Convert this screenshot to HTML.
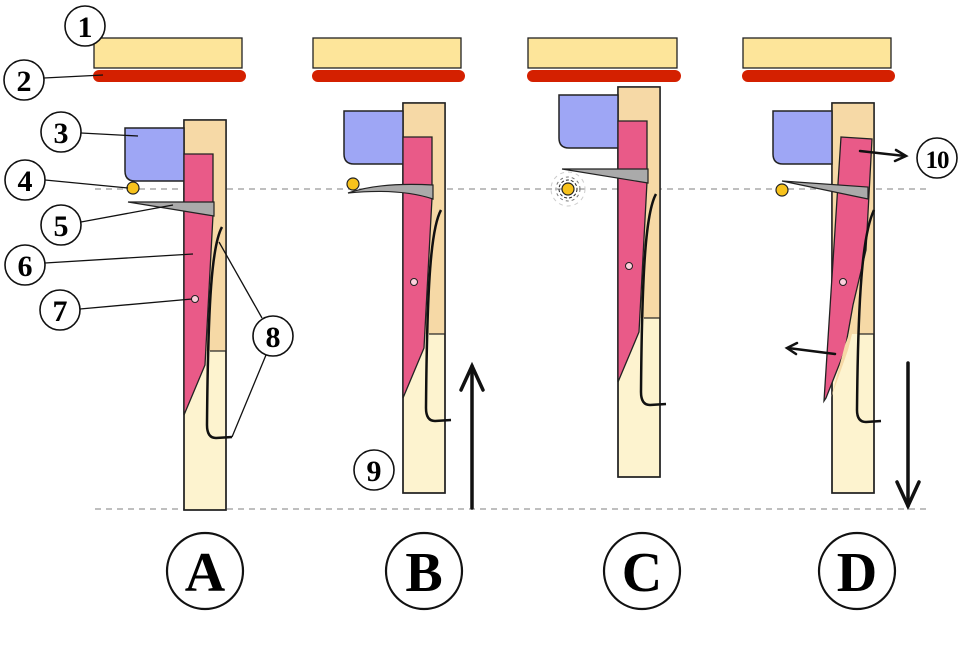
<!DOCTYPE html>
<html><head><meta charset="utf-8"><style>
html,body{margin:0;padding:0;background:#fff;}
svg{display:block;}
text{font-family:"Liberation Serif","DejaVu Serif",serif;font-weight:bold;text-anchor:middle;}
</style></head><body>
<svg width="960" height="656" viewBox="0 0 960 656" xmlns="http://www.w3.org/2000/svg">
<defs>
<g id="jack">
  <rect x="184" y="120" width="42" height="390" fill="#fdf3cf" stroke="#222" stroke-width="1.5"/>
  <rect x="184" y="120" width="42" height="231" fill="#f6d9a6"/>
  <path d="M210,351 L226,351" stroke="#222" stroke-width="1.2"/>
  <rect x="184" y="120" width="42" height="390" fill="none" stroke="#222" stroke-width="1.5"/>
  <path d="M125,128 L184,128 L184,181 L135,181 Q125,181 125,171 Z" fill="#9ea6f5" stroke="#222" stroke-width="1.5"/>
</g>
<g id="tongue">
  <path d="M184,154 L213,154 L213,215 L205,365 L184,415 Z" fill="#e95a88" stroke="#222" stroke-width="1.3"/>
  <circle cx="195" cy="299" r="3.5" fill="#fbd0dc" stroke="#222" stroke-width="1"/>
</g>
<path id="spring" d="M222,227 C212,245 208,300 207,425 Q207,438 216,438 L232,437" fill="none" stroke="#111" stroke-width="2.5"/>
</defs>

<!-- dashed lines -->
<line x1="95" y1="189" x2="930" y2="189" stroke="#999" stroke-width="1.3" stroke-dasharray="6,5"/>
<line x1="95" y1="509" x2="930" y2="509" stroke="#999" stroke-width="1.3" stroke-dasharray="6,5"/>

<!-- top bars -->
<g stroke="#222" stroke-width="1.3" fill="#fde59a">
<rect x="94" y="38" width="148" height="30"/>
<rect x="313" y="38" width="148" height="30"/>
<rect x="528" y="38" width="149" height="30"/>
<rect x="743" y="38" width="148" height="30"/>
</g>
<g fill="#d42000">
<rect x="93" y="70" width="153" height="12" rx="6"/>
<rect x="312" y="70" width="153" height="12" rx="6"/>
<rect x="527" y="70" width="154" height="12" rx="6"/>
<rect x="742" y="70" width="153" height="12" rx="6"/>
</g>

<!-- Column A -->
<use href="#jack"/>
<use href="#tongue"/>
<path d="M128,202 L214,202 L214,216 Z" fill="#aaa" stroke="#222" stroke-width="1.2"/>
<use href="#spring"/>
<circle cx="133" cy="188" r="6" fill="#f7c21c" stroke="#222" stroke-width="1.2"/>

<!-- Column B -->
<g transform="translate(219,-17)">
<use href="#jack"/><use href="#tongue"/><use href="#spring"/>
</g>
<path d="M348,193 Q380,182 433,185 L433,199 Q400,188 348,193 Z" fill="#aaa" stroke="#222" stroke-width="1.2"/>
<circle cx="353" cy="184" r="6" fill="#f7c21c" stroke="#222" stroke-width="1.2"/>

<!-- Column C -->
<g transform="translate(434,-33)">
<use href="#jack"/><use href="#tongue"/>
<path d="M128,202 L214,202 L214,216 Z" fill="#aaa" stroke="#222" stroke-width="1.2"/>
<use href="#spring"/>
</g>
<circle cx="568" cy="189" r="17" fill="none" stroke="#ccc" stroke-width="1" stroke-dasharray="4,4"/>
<circle cx="568" cy="189" r="12" fill="none" stroke="#777" stroke-width="1" stroke-dasharray="3,3"/>
<circle cx="568" cy="189" r="9" fill="none" stroke="#222" stroke-width="1" stroke-dasharray="3,2"/>
<circle cx="568" cy="189" r="6" fill="#f7c21c" stroke="#222" stroke-width="1.2"/>

<!-- Column D -->
<g transform="translate(648,-17)">
<use href="#jack"/>
</g>
<path d="M841,137 L872,139 L866,250 L853,305 L845,350 L826,398 L824,401 Z" fill="#e95a88" stroke="#222" stroke-width="1.3"/>
<path d="M858,310 L848,350 L831,398 L845,345 Z" fill="#f6d9a6"/>
<circle cx="843" cy="282" r="3.5" fill="#fbd0dc" stroke="#222" stroke-width="1"/>
<path d="M782,181 L868,187 L868,199 Z" fill="#aaa" stroke="#222" stroke-width="1.2"/>
<path d="M874,210 C862,235 858,300 857,410 Q857,422 866,422 L881,421" fill="none" stroke="#111" stroke-width="2.5"/>
<circle cx="782" cy="190" r="6" fill="#f7c21c" stroke="#222" stroke-width="1.2"/>

<!-- arrows -->
<g stroke="#111" fill="none" stroke-linecap="round">
<line x1="472" y1="508" x2="472" y2="366" stroke-width="3.5"/>
<path d="M461,390 L472,366 L483,390" stroke-width="3.5"/>
<line x1="908" y1="363" x2="908" y2="506" stroke-width="3.5"/>
<path d="M897,482 L908,506 L919,482" stroke-width="3.5"/>
<line x1="860" y1="151" x2="905" y2="156" stroke-width="2.5"/>
<path d="M896,150 L906,156 L895,161" stroke-width="2.5"/>
<line x1="835" y1="354" x2="788" y2="348" stroke-width="2.5"/>
<path d="M797,343 L787,348 L796,354" stroke-width="2.5"/>
</g>

<!-- leader lines -->
<g stroke="#111" stroke-width="1.3" fill="none">
<line x1="44" y1="78" x2="103" y2="75"/>
<line x1="81" y1="133" x2="138" y2="136"/>
<line x1="45" y1="180" x2="128" y2="188"/>
<line x1="81" y1="222" x2="173" y2="205"/>
<line x1="45" y1="263" x2="193" y2="254"/>
<line x1="80" y1="309" x2="192" y2="299"/>
<line x1="262" y1="318" x2="219" y2="242"/>
<line x1="266" y1="355" x2="232" y2="437"/>
</g>

<!-- small number labels -->
<g fill="#fff" stroke="#111" stroke-width="1.6">
<circle cx="85" cy="26" r="20"/>
<circle cx="24" cy="80" r="20"/>
<circle cx="61" cy="132" r="20"/>
<circle cx="25" cy="180" r="20"/>
<circle cx="61" cy="225" r="20"/>
<circle cx="25" cy="265" r="20"/>
<circle cx="60" cy="310" r="20"/>
<circle cx="273" cy="336" r="20"/>
<circle cx="374" cy="470" r="20"/>
<circle cx="937" cy="158" r="20"/>
</g>
<g font-size="30" fill="#000">
<text x="85" y="37">1</text>
<text x="24" y="91">2</text>
<text x="61" y="143">3</text>
<text x="25" y="191">4</text>
<text x="61" y="236">5</text>
<text x="25" y="276">6</text>
<text x="60" y="321">7</text>
<text x="273" y="347">8</text>
<text x="374" y="481">9</text>
<text x="937" y="168" font-size="25" letter-spacing="-1">10</text>
</g>

<!-- big letters -->
<g fill="#fff" stroke="#111" stroke-width="2.2">
<circle cx="205" cy="571" r="38"/>
<circle cx="424" cy="571" r="38"/>
<circle cx="642" cy="571" r="38"/>
<circle cx="857" cy="571" r="38"/>
</g>
<g font-size="56" fill="#000">
<text x="205" y="591">A</text>
<text x="424" y="591">B</text>
<text x="642" y="591">C</text>
<text x="857" y="591">D</text>
</g>
</svg>
</body></html>
